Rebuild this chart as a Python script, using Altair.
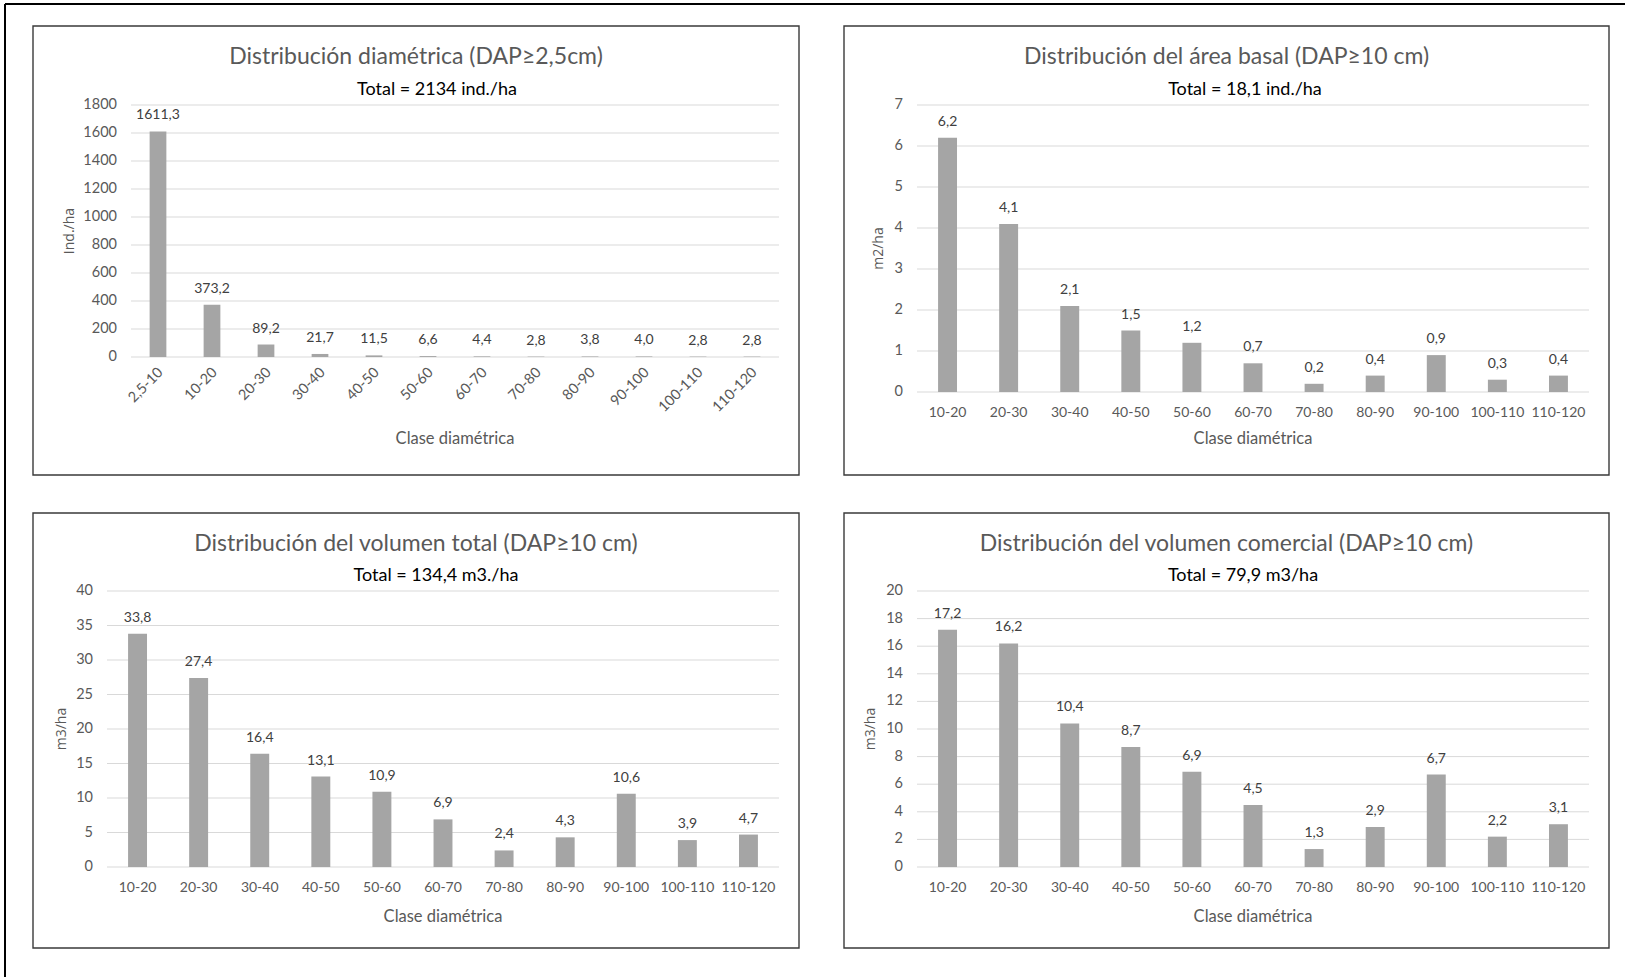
import altair as alt
import pandas as pd

# Diameter classes
clases_25 = ["2,5-10", "10-20", "20-30", "30-40", "40-50", "50-60",
             "60-70", "70-80", "80-90", "90-100", "100-110", "110-120"]
clases_10 = clases_25[1:]

# Values per class
ind_ha = [1611.3, 373.2, 89.2, 21.7, 11.5, 6.6, 4.4, 2.8, 3.8, 4.0, 2.8, 2.8]
area_basal = [6.2, 4.1, 2.1, 1.5, 1.2, 0.7, 0.2, 0.4, 0.9, 0.3, 0.4]
vol_total = [33.8, 27.4, 16.4, 13.1, 10.9, 6.9, 2.4, 4.3, 10.6, 3.9, 4.7]
vol_comercial = [17.2, 16.2, 10.4, 8.7, 6.9, 4.5, 1.3, 2.9, 6.7, 2.2, 3.1]

# Axis ticks
ticks_ind = list(range(0, 1801, 200))
ticks_ab = list(range(0, 8))
ticks_vt = list(range(0, 41, 5))
ticks_vc = list(range(0, 21, 2))

BAR = "#A5A5A5"
GRID = "#D9D9D9"
AXIS_TXT = "#595959"
LABEL_TXT = "#404040"
FONT = "Lato"
W = 672

one = pd.DataFrame({"k": [0]})


def fmt(v):
    return f"{v:.1f}".replace(".", ",")


def texto(s, x, y, size, color, font=FONT, angle=0):
    kw = dict(text=s, fontSize=size, color=color, font=font,
              align="center", baseline="middle")
    if angle:
        kw["angle"] = angle
    return alt.Chart(one).mark_text(**kw).encode(x=alt.value(x), y=alt.value(y))


def panel(clases, valores, ymax, ticks, titulo, total, ytit, alto,
          box, tpos, spos, xtpos, ytpos, x_start=0, rotar=False, marco=False):
    df = pd.DataFrame({"clase": clases, "valor": valores,
                       "etiqueta": [fmt(v) for v in valores]})
    dticks = pd.DataFrame({"valor": ticks, "lab": [str(t) for t in ticks]})
    xscale = alt.Scale(range=[x_start, W], paddingInner=0.69, paddingOuter=0.345)
    yscale = alt.Scale(domain=[0, ymax], nice=False)

    if rotar:
        xaxis = alt.Axis(title="", labelAngle=315, labelAlign="right",
                         labelBaseline="middle", labelPadding=13, labelOffset=3,
                         ticks=False, domain=False, labelFont=FONT,
                         labelFontSize=14.5, labelColor=AXIS_TXT,
                         labelOverlap=False)
    else:
        xaxis = alt.Axis(title="", labelAngle=0, labelPadding=13, ticks=False,
                         domain=False, labelFont=FONT, labelFontSize=14,
                         labelColor=AXIS_TXT, labelOverlap=False)

    # horizontal gridlines and value labels at each tick
    grid = alt.Chart(dticks).mark_rule(color=GRID, strokeWidth=1).encode(
        y=alt.Y("valor:Q", scale=yscale, axis=None),
        x=alt.value(x_start), x2=alt.value(W),
    )
    ylabels = alt.Chart(dticks).mark_text(
        font=FONT, fontSize=14.5, color=AXIS_TXT, align="right",
        baseline="middle").encode(
        y=alt.Y("valor:Q", scale=yscale, axis=None),
        x=alt.value(x_start - 14),
        text="lab:N",
    )

    base = alt.Chart(df)
    bars = base.mark_bar(color=BAR).encode(
        x=alt.X("clase:N", sort=clases, scale=xscale, axis=xaxis),
        y=alt.Y("valor:Q", scale=yscale, axis=None),
    )
    labels = base.mark_text(font=FONT, fontSize=14, color=LABEL_TXT,
                            baseline="middle", dy=-16).encode(
        x=alt.X("clase:N", sort=clases),
        y=alt.Y("valor:Q", axis=None),
        text="etiqueta:N",
    )
    borde = alt.Chart(one).mark_rect(fillOpacity=0, stroke="#3a3a3a",
                                     strokeWidth=1.4).encode(
        x=alt.value(box[0]), x2=alt.value(box[1]),
        y=alt.value(box[2]), y2=alt.value(box[3]),
    )
    capas = [borde, grid, ylabels, bars, labels,
             texto(titulo, tpos[0], tpos[1], 23, AXIS_TXT),
             texto(total, spos[0], spos[1], 18, "#000000"),
             texto("Clase diamétrica", xtpos[0], xtpos[1], 16.5, AXIS_TXT),
             texto(ytit, ytpos[0], ytpos[1], 14, AXIS_TXT, font="Open Sans", angle=270)]
    if marco:
        capas.append(alt.Chart(one).mark_rule(color="#000000", strokeWidth=2).encode(
            x=alt.value(-102), x2=alt.value(1518), y=alt.value(-101)))
        capas.append(alt.Chart(one).mark_rule(color="#000000", strokeWidth=2).encode(
            x=alt.value(-102), y=alt.value(-101), y2=alt.value(872)))
    return alt.layer(*capas).properties(width=W, height=alto)


p1 = panel(clases_25, ind_ha, 1800, ticks_ind,
           "Distribución diamétrica (DAP≥2,5cm)", "Total = 2134 ind./ha", "Ind./ha", 252,
           box=(-74, 692, -79, 370), tpos=(309, -48), spos=(330, -15),
           xtpos=(348, 334), ytpos=(-37, 126), x_start=24, rotar=True, marco=True)
p2 = panel(clases_10, area_basal, 7, ticks_ab,
           "Distribución del área basal (DAP≥10 cm)", "Total = 18,1 ind./ha", "m2/ha", 287,
           box=(-73, 692, -79, 370), tpos=(309.5, -48), spos=(328, -15),
           xtpos=(336, 334), ytpos=(-38, 143.5))
p3 = panel(clases_10, vol_total, 40, ticks_vt,
           "Distribución del volumen total (DAP≥10 cm)", "Total = 134,4 m3./ha", "m3/ha", 276,
           box=(-74, 692, -78, 357), tpos=(309, -47.5), spos=(329, -15),
           xtpos=(336, 326), ytpos=(-45, 138))
p4 = panel(clases_10, vol_comercial, 20, ticks_vc,
           "Distribución del volumen comercial (DAP≥10 cm)", "Total = 79,9 m3/ha", "m3/ha", 276,
           box=(-73, 692, -78, 357), tpos=(309.5, -47.5), spos=(326, -15),
           xtpos=(336, 326), ytpos=(-46, 138))

chart = alt.concat(p1, p2, p3, p4, columns=2, bounds="flush",
                   spacing={"row": 199, "column": 138}).properties(
    padding={"left": 4, "top": 3, "right": 0, "bottom": 0},
    background="#ffffff",
).configure_view(strokeWidth=0)

chart.save("out.html", embed_options={"renderer": "svg", "actions": False})
